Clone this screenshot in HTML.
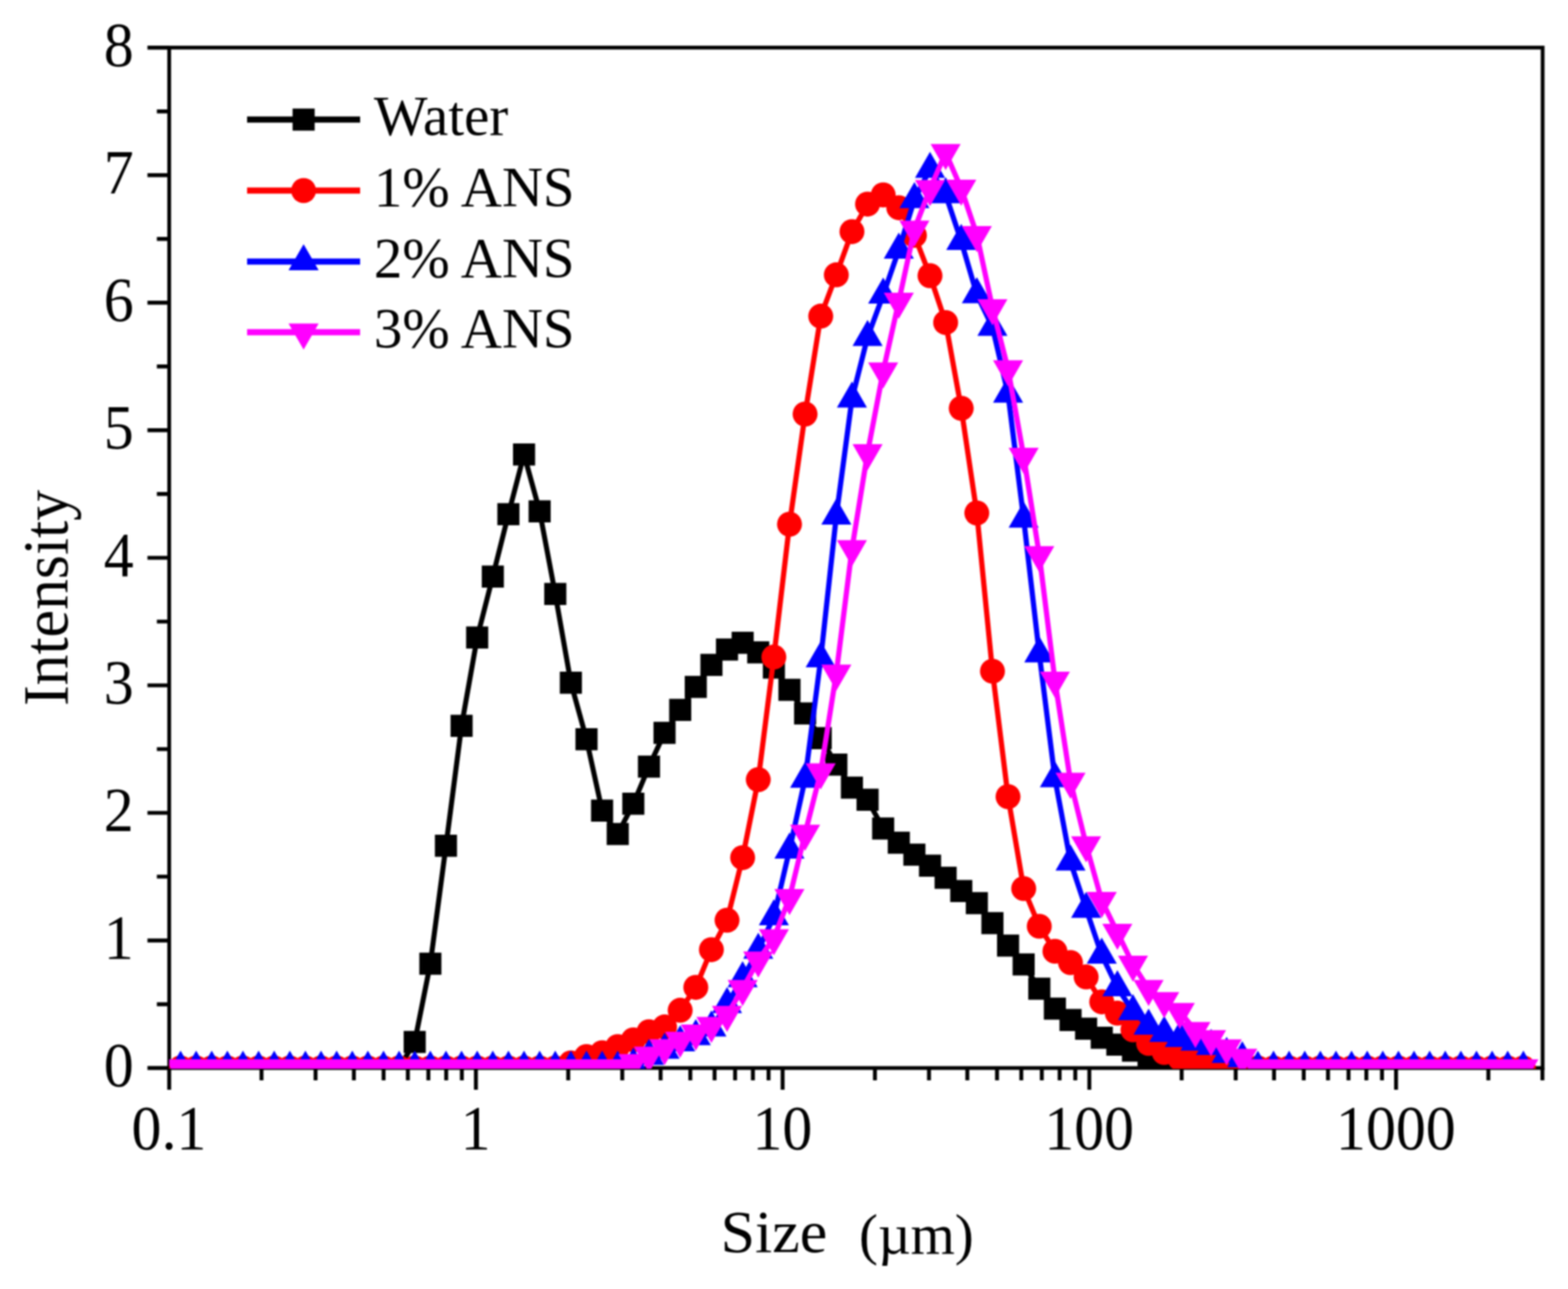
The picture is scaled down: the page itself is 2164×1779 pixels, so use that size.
<!DOCTYPE html>
<html lang="en">
<head>
<meta charset="utf-8">
<title>Particle size distribution</title>
<style>
html,body{margin:0;padding:0;background:#ffffff;}
body{width:2164px;height:1779px;overflow:hidden;}
svg{display:block;}
</style>
</head>
<body>
<svg width="2164" height="1779" viewBox="0 0 2164 1779">
<defs><clipPath id="plotclip"><rect x="233.5" y="65.7" width="1895.5" height="1409.3"/></clipPath></defs>
<rect width="2164" height="1779" fill="#ffffff"/>
<filter id="soft" color-interpolation-filters="sRGB" filterUnits="userSpaceOnUse" x="0" y="0" width="2164" height="1779"><feGaussianBlur stdDeviation="1.2"/></filter>
<g filter="url(#soft)">
<rect x="-20" y="-20" width="2204" height="1819" fill="#ffffff"/>
<g stroke="#000000"><rect x="233.5" y="65.7" width="1895.5" height="1408.3" fill="none" stroke-width="5.2"/>
<path d="M233.5 1474H203.5M233.5 1386H216.5M233.5 1298H203.5M233.5 1209.9H216.5M233.5 1121.9H203.5M233.5 1033.9H216.5M233.5 945.9H203.5M233.5 857.9H216.5M233.5 769.9H203.5M233.5 681.8H216.5M233.5 593.8H203.5M233.5 505.8H216.5M233.5 417.8H203.5M233.5 329.8H216.5M233.5 241.7H203.5M233.5 153.7H216.5M233.5 65.7H203.5M233.5 1474V1504M360.9 1474V1491M435.5 1474V1491M488.4 1474V1491M529.4 1474V1491M562.9 1474V1491M591.2 1474V1491M615.8 1474V1491M637.4 1474V1491M656.8 1474V1504M784.2 1474V1491M858.8 1474V1491M911.7 1474V1491M952.7 1474V1491M986.2 1474V1491M1014.5 1474V1491M1039.1 1474V1491M1060.7 1474V1491M1080.1 1474V1504M1207.5 1474V1491M1282.1 1474V1491M1335 1474V1491M1376 1474V1491M1409.5 1474V1491M1437.8 1474V1491M1462.4 1474V1491M1484 1474V1491M1503.4 1474V1504M1630.8 1474V1491M1705.4 1474V1491M1758.3 1474V1491M1799.3 1474V1491M1832.8 1474V1491M1861.1 1474V1491M1885.7 1474V1491M1907.3 1474V1491M1926.7 1474V1504M2054.1 1474V1491M2128.7 1474V1491" fill="none" stroke-width="5.4"/></g>
<g font-family="'Liberation Serif', 'Times New Roman', serif" font-size="86" fill="#000000">
<text transform="translate(184.5,1498.8) scale(0.96,1)" text-anchor="end">0</text>
<text transform="translate(184.5,1322.8) scale(0.96,1)" text-anchor="end">1</text>
<text transform="translate(184.5,1146.7) scale(0.96,1)" text-anchor="end">2</text>
<text transform="translate(184.5,970.7) scale(0.96,1)" text-anchor="end">3</text>
<text transform="translate(184.5,794.6) scale(0.96,1)" text-anchor="end">4</text>
<text transform="translate(184.5,618.6) scale(0.96,1)" text-anchor="end">5</text>
<text transform="translate(184.5,442.6) scale(0.96,1)" text-anchor="end">6</text>
<text transform="translate(184.5,266.5) scale(0.96,1)" text-anchor="end">7</text>
<text transform="translate(184.5,90.5) scale(0.96,1)" text-anchor="end">8</text>
<text transform="translate(233.2,1585.6) scale(0.96,1)" text-anchor="middle">0.1</text>
<text transform="translate(656.5,1585.6) scale(0.96,1)" text-anchor="middle">1</text>
<text transform="translate(1079.8,1585.6) scale(0.96,1)" text-anchor="middle">10</text>
<text transform="translate(1503.1,1585.6) scale(0.96,1)" text-anchor="middle">100</text>
<text transform="translate(1926.4,1585.6) scale(0.96,1)" text-anchor="middle">1000</text>
</g>
<g font-family="'Liberation Serif', 'Times New Roman', serif" fill="#000000">
<text y="1728.3" xml:space="preserve"><tspan x="994.5" font-size="82" textLength="190" lengthAdjust="spacingAndGlyphs">Size  </tspan><tspan x="1185.5" dy="1.5" font-size="78" textLength="158.5" lengthAdjust="spacingAndGlyphs">(µm)</tspan></text>
<text transform="translate(93,825.2) rotate(-90) scale(0.963,1)" font-size="88.5" text-anchor="middle">Intensity</text>
</g>
<g clip-path="url(#plotclip)">
<polyline fill="none" stroke="#000000" stroke-width="7" stroke-linejoin="round" points="249.2,1474 270.7,1474 292.2,1474 313.8,1474 335.3,1474 356.9,1474 378.4,1474 400,1474 421.5,1474 443.1,1474 464.6,1474 486.2,1474 507.7,1474 529.3,1474 550.8,1474 572.4,1438 593.9,1330 615.5,1167.2 637,1001.7 658.6,879.9 680.1,795.7 701.7,709.6 723.2,627.2 744.8,705.8 766.3,819.8 787.9,942.3 809.4,1020.3 831,1118.8 852.5,1151 874.1,1109.3 895.6,1058 917.2,1011.5 938.7,979.8 960.3,948 981.8,917.6 1003.4,896.5 1024.9,887.1 1046.5,900.4 1068,921.4 1089.6,952 1111.1,984.6 1132.7,1018.8 1154.2,1055.3 1175.8,1087 1197.3,1103.8 1218.9,1143.5 1240.4,1163 1262,1179.6 1283.5,1194.8 1305.1,1211.5 1326.6,1229.8 1348.1,1246.4 1369.7,1274 1391.2,1305 1412.8,1331 1434.3,1364.6 1455.9,1392.1 1477.4,1407.7 1499,1419.8 1520.5,1432.3 1542.1,1441.7 1563.6,1450 1585.2,1458 1606.7,1464 1628.3,1469 1649.8,1474 1671.4,1474 1692.9,1474 1714.5,1474 1736,1474 1757.6,1474 1779.1,1474 1800.7,1474 1822.2,1474 1843.8,1474 1865.3,1474 1886.9,1474 1908.4,1474 1930,1474 1951.5,1474 1973.1,1474 1994.6,1474 2016.2,1474 2037.7,1474 2059.3,1474 2080.8,1474 2102.4,1474"/>
<g fill="#000000">
<rect x="557.1" y="1422.8" width="30.5" height="30.5"/>
<rect x="578.7" y="1314.8" width="30.5" height="30.5"/>
<rect x="600.2" y="1152" width="30.5" height="30.5"/>
<rect x="621.8" y="986.5" width="30.5" height="30.5"/>
<rect x="643.3" y="864.6" width="30.5" height="30.5"/>
<rect x="664.9" y="780.5" width="30.5" height="30.5"/>
<rect x="686.4" y="694.4" width="30.5" height="30.5"/>
<rect x="708" y="612" width="30.5" height="30.5"/>
<rect x="729.5" y="690.5" width="30.5" height="30.5"/>
<rect x="751.1" y="804.5" width="30.5" height="30.5"/>
<rect x="772.6" y="927" width="30.5" height="30.5"/>
<rect x="794.2" y="1005" width="30.5" height="30.5"/>
<rect x="815.7" y="1103.5" width="30.5" height="30.5"/>
<rect x="837.3" y="1135.8" width="30.5" height="30.5"/>
<rect x="858.8" y="1094" width="30.5" height="30.5"/>
<rect x="880.4" y="1042.8" width="30.5" height="30.5"/>
<rect x="901.9" y="996.2" width="30.5" height="30.5"/>
<rect x="923.5" y="964.5" width="30.5" height="30.5"/>
<rect x="945" y="932.8" width="30.5" height="30.5"/>
<rect x="966.6" y="902.4" width="30.5" height="30.5"/>
<rect x="988.1" y="881.2" width="30.5" height="30.5"/>
<rect x="1009.7" y="871.9" width="30.5" height="30.5"/>
<rect x="1031.2" y="885.1" width="30.5" height="30.5"/>
<rect x="1052.8" y="906.1" width="30.5" height="30.5"/>
<rect x="1074.3" y="936.8" width="30.5" height="30.5"/>
<rect x="1095.9" y="969.4" width="30.5" height="30.5"/>
<rect x="1117.4" y="1003.5" width="30.5" height="30.5"/>
<rect x="1139" y="1040" width="30.5" height="30.5"/>
<rect x="1160.5" y="1071.8" width="30.5" height="30.5"/>
<rect x="1182.1" y="1088.5" width="30.5" height="30.5"/>
<rect x="1203.6" y="1128.2" width="30.5" height="30.5"/>
<rect x="1225.2" y="1147.8" width="30.5" height="30.5"/>
<rect x="1246.7" y="1164.3" width="30.5" height="30.5"/>
<rect x="1268.3" y="1179.5" width="30.5" height="30.5"/>
<rect x="1289.8" y="1196.2" width="30.5" height="30.5"/>
<rect x="1311.4" y="1214.5" width="30.5" height="30.5"/>
<rect x="1332.9" y="1231.2" width="30.5" height="30.5"/>
<rect x="1354.4" y="1258.8" width="30.5" height="30.5"/>
<rect x="1376" y="1289.8" width="30.5" height="30.5"/>
<rect x="1397.5" y="1315.8" width="30.5" height="30.5"/>
<rect x="1419.1" y="1349.3" width="30.5" height="30.5"/>
<rect x="1440.6" y="1376.8" width="30.5" height="30.5"/>
<rect x="1462.2" y="1392.5" width="30.5" height="30.5"/>
<rect x="1483.7" y="1404.5" width="30.5" height="30.5"/>
<rect x="1505.3" y="1417" width="30.5" height="30.5"/>
<rect x="1526.8" y="1426.5" width="30.5" height="30.5"/>
<rect x="1548.4" y="1434.8" width="30.5" height="30.5"/>
<rect x="1569.9" y="1442.8" width="30.5" height="30.5"/>
<rect x="1591.5" y="1448.8" width="30.5" height="30.5"/>
<rect x="1613" y="1453.8" width="30.5" height="30.5"/>
</g>
<polyline fill="none" stroke="#ff0000" stroke-width="7.2" stroke-linejoin="round" points="249.2,1474 270.7,1474 292.2,1474 313.8,1474 335.3,1474 356.9,1474 378.4,1474 400,1474 421.5,1474 443.1,1474 464.6,1474 486.2,1474 507.7,1474 529.3,1474 550.8,1474 572.4,1474 593.9,1474 615.5,1474 637,1474 658.6,1474 680.1,1474 701.7,1474 723.2,1474 744.8,1474 766.3,1474 787.9,1467 809.4,1458.2 831,1453 852.5,1444.5 874.1,1435.2 895.6,1424 917.2,1417.3 938.7,1394.3 960.3,1362.7 981.8,1310.7 1003.4,1270 1024.9,1183.7 1046.5,1076 1068,906.8 1089.6,723.5 1111.1,571.5 1132.7,436.3 1154.2,379.3 1175.8,319.7 1197.3,281.7 1218.9,269 1240.4,286.7 1262,324.8 1283.5,380.5 1305.1,445.2 1326.6,563.5 1348.1,708 1369.7,926.4 1391.2,1099.5 1412.8,1226.4 1434.3,1278.4 1455.9,1312.9 1477.4,1328.5 1499,1348.3 1520.5,1382.7 1542.1,1398.3 1563.6,1421.3 1585.2,1440 1606.7,1452.5 1628.3,1460.8 1649.8,1465 1671.4,1469 1692.9,1472 1714.5,1474 1736,1474 1757.6,1474 1779.1,1474 1800.7,1474 1822.2,1474 1843.8,1474 1865.3,1474 1886.9,1474 1908.4,1474 1930,1474 1951.5,1474 1973.1,1474 1994.6,1474 2016.2,1474 2037.7,1474 2059.3,1474 2080.8,1474 2102.4,1474"/>
<g fill="#ff0000">
<circle cx="249.2" cy="1474" r="17.2"/>
<circle cx="270.7" cy="1474" r="17.2"/>
<circle cx="292.2" cy="1474" r="17.2"/>
<circle cx="313.8" cy="1474" r="17.2"/>
<circle cx="335.3" cy="1474" r="17.2"/>
<circle cx="356.9" cy="1474" r="17.2"/>
<circle cx="378.4" cy="1474" r="17.2"/>
<circle cx="400" cy="1474" r="17.2"/>
<circle cx="421.5" cy="1474" r="17.2"/>
<circle cx="443.1" cy="1474" r="17.2"/>
<circle cx="464.6" cy="1474" r="17.2"/>
<circle cx="486.2" cy="1474" r="17.2"/>
<circle cx="507.7" cy="1474" r="17.2"/>
<circle cx="529.3" cy="1474" r="17.2"/>
<circle cx="550.8" cy="1474" r="17.2"/>
<circle cx="572.4" cy="1474" r="17.2"/>
<circle cx="593.9" cy="1474" r="17.2"/>
<circle cx="615.5" cy="1474" r="17.2"/>
<circle cx="637" cy="1474" r="17.2"/>
<circle cx="658.6" cy="1474" r="17.2"/>
<circle cx="680.1" cy="1474" r="17.2"/>
<circle cx="701.7" cy="1474" r="17.2"/>
<circle cx="723.2" cy="1474" r="17.2"/>
<circle cx="744.8" cy="1474" r="17.2"/>
<circle cx="766.3" cy="1474" r="17.2"/>
<circle cx="787.9" cy="1467" r="17.2"/>
<circle cx="809.4" cy="1458.2" r="17.2"/>
<circle cx="831" cy="1453" r="17.2"/>
<circle cx="852.5" cy="1444.5" r="17.2"/>
<circle cx="874.1" cy="1435.2" r="17.2"/>
<circle cx="895.6" cy="1424" r="17.2"/>
<circle cx="917.2" cy="1417.3" r="17.2"/>
<circle cx="938.7" cy="1394.3" r="17.2"/>
<circle cx="960.3" cy="1362.7" r="17.2"/>
<circle cx="981.8" cy="1310.7" r="17.2"/>
<circle cx="1003.4" cy="1270" r="17.2"/>
<circle cx="1024.9" cy="1183.7" r="17.2"/>
<circle cx="1046.5" cy="1076" r="17.2"/>
<circle cx="1068" cy="906.8" r="17.2"/>
<circle cx="1089.6" cy="723.5" r="17.2"/>
<circle cx="1111.1" cy="571.5" r="17.2"/>
<circle cx="1132.7" cy="436.3" r="17.2"/>
<circle cx="1154.2" cy="379.3" r="17.2"/>
<circle cx="1175.8" cy="319.7" r="17.2"/>
<circle cx="1197.3" cy="281.7" r="17.2"/>
<circle cx="1218.9" cy="269" r="17.2"/>
<circle cx="1240.4" cy="286.7" r="17.2"/>
<circle cx="1262" cy="324.8" r="17.2"/>
<circle cx="1283.5" cy="380.5" r="17.2"/>
<circle cx="1305.1" cy="445.2" r="17.2"/>
<circle cx="1326.6" cy="563.5" r="17.2"/>
<circle cx="1348.1" cy="708" r="17.2"/>
<circle cx="1369.7" cy="926.4" r="17.2"/>
<circle cx="1391.2" cy="1099.5" r="17.2"/>
<circle cx="1412.8" cy="1226.4" r="17.2"/>
<circle cx="1434.3" cy="1278.4" r="17.2"/>
<circle cx="1455.9" cy="1312.9" r="17.2"/>
<circle cx="1477.4" cy="1328.5" r="17.2"/>
<circle cx="1499" cy="1348.3" r="17.2"/>
<circle cx="1520.5" cy="1382.7" r="17.2"/>
<circle cx="1542.1" cy="1398.3" r="17.2"/>
<circle cx="1563.6" cy="1421.3" r="17.2"/>
<circle cx="1585.2" cy="1440" r="17.2"/>
<circle cx="1606.7" cy="1452.5" r="17.2"/>
<circle cx="1628.3" cy="1460.8" r="17.2"/>
<circle cx="1649.8" cy="1465" r="17.2"/>
<circle cx="1671.4" cy="1469" r="17.2"/>
<circle cx="1692.9" cy="1472" r="17.2"/>
<circle cx="1714.5" cy="1474" r="17.2"/>
<circle cx="1736" cy="1474" r="17.2"/>
<circle cx="1757.6" cy="1474" r="17.2"/>
<circle cx="1779.1" cy="1474" r="17.2"/>
<circle cx="1800.7" cy="1474" r="17.2"/>
<circle cx="1822.2" cy="1474" r="17.2"/>
<circle cx="1843.8" cy="1474" r="17.2"/>
<circle cx="1865.3" cy="1474" r="17.2"/>
<circle cx="1886.9" cy="1474" r="17.2"/>
<circle cx="1908.4" cy="1474" r="17.2"/>
<circle cx="1930" cy="1474" r="17.2"/>
<circle cx="1951.5" cy="1474" r="17.2"/>
<circle cx="1973.1" cy="1474" r="17.2"/>
<circle cx="1994.6" cy="1474" r="17.2"/>
<circle cx="2016.2" cy="1474" r="17.2"/>
<circle cx="2037.7" cy="1474" r="17.2"/>
<circle cx="2059.3" cy="1474" r="17.2"/>
<circle cx="2080.8" cy="1474" r="17.2"/>
<circle cx="2102.4" cy="1474" r="17.2"/>
</g>
<polyline fill="none" stroke="#0000ff" stroke-width="7.2" stroke-linejoin="round" points="249.2,1474 270.7,1474 292.2,1474 313.8,1474 335.3,1474 356.9,1474 378.4,1474 400,1474 421.5,1474 443.1,1474 464.6,1474 486.2,1474 507.7,1474 529.3,1474 550.8,1474 572.4,1474 593.9,1474 615.5,1474 637,1474 658.6,1474 680.1,1474 701.7,1474 723.2,1474 744.8,1474 766.3,1474 787.9,1474 809.4,1474 831,1474 852.5,1474 874.1,1469.7 895.6,1457.8 917.2,1449.3 938.7,1439 960.3,1430.5 981.8,1418.6 1003.4,1386.2 1024.9,1350.4 1046.5,1311.2 1068,1265 1089.6,1172.9 1111.1,1075.3 1132.7,909.1 1154.2,712.1 1175.8,550.5 1197.3,465.4 1218.9,407.1 1240.4,345 1262,275.3 1283.5,233.5 1305.1,268.5 1326.6,332.9 1348.1,406.4 1369.7,451.5 1391.2,543.7 1412.8,716.3 1434.3,902.3 1455.9,1074.4 1477.4,1189.5 1499,1254.7 1520.5,1318.1 1542.1,1362.9 1563.6,1396 1585.2,1416 1606.7,1426 1628.3,1433 1649.8,1438 1671.4,1444 1692.9,1455 1714.5,1461 1736,1474 1757.6,1474 1779.1,1474 1800.7,1474 1822.2,1474 1843.8,1474 1865.3,1474 1886.9,1474 1908.4,1474 1930,1474 1951.5,1474 1973.1,1474 1994.6,1474 2016.2,1474 2037.7,1474 2059.3,1474 2080.8,1474 2102.4,1474"/>
<g fill="#0000ff">
<polygon points="249.2,1450 269.9,1486 228.4,1486"/>
<polygon points="270.7,1450 291.4,1486 249.9,1486"/>
<polygon points="292.2,1450 313,1486 271.5,1486"/>
<polygon points="313.8,1450 334.5,1486 293,1486"/>
<polygon points="335.3,1450 356.1,1486 314.6,1486"/>
<polygon points="356.9,1450 377.6,1486 336.1,1486"/>
<polygon points="378.4,1450 399.2,1486 357.7,1486"/>
<polygon points="400,1450 420.7,1486 379.2,1486"/>
<polygon points="421.5,1450 442.3,1486 400.8,1486"/>
<polygon points="443.1,1450 463.8,1486 422.3,1486"/>
<polygon points="464.6,1450 485.4,1486 443.9,1486"/>
<polygon points="486.2,1450 506.9,1486 465.4,1486"/>
<polygon points="507.7,1450 528.5,1486 487,1486"/>
<polygon points="529.3,1450 550,1486 508.5,1486"/>
<polygon points="550.8,1450 571.6,1486 530.1,1486"/>
<polygon points="572.4,1450 593.1,1486 551.6,1486"/>
<polygon points="593.9,1450 614.7,1486 573.2,1486"/>
<polygon points="615.5,1450 636.2,1486 594.7,1486"/>
<polygon points="637,1450 657.8,1486 616.3,1486"/>
<polygon points="658.6,1450 679.3,1486 637.8,1486"/>
<polygon points="680.1,1450 700.9,1486 659.4,1486"/>
<polygon points="701.7,1450 722.4,1486 680.9,1486"/>
<polygon points="723.2,1450 744,1486 702.5,1486"/>
<polygon points="744.8,1450 765.5,1486 724,1486"/>
<polygon points="766.3,1450 787.1,1486 745.6,1486"/>
<polygon points="787.9,1450 808.6,1486 767.1,1486"/>
<polygon points="809.4,1450 830.2,1486 788.7,1486"/>
<polygon points="831,1450 851.7,1486 810.2,1486"/>
<polygon points="852.5,1450 873.3,1486 831.8,1486"/>
<polygon points="874.1,1445.7 894.8,1481.7 853.3,1481.7"/>
<polygon points="895.6,1433.8 916.4,1469.8 874.9,1469.8"/>
<polygon points="917.2,1425.3 937.9,1461.3 896.4,1461.3"/>
<polygon points="938.7,1415 959.5,1451 918,1451"/>
<polygon points="960.3,1406.5 981,1442.5 939.5,1442.5"/>
<polygon points="981.8,1394.6 1002.6,1430.6 961.1,1430.6"/>
<polygon points="1003.4,1362.2 1024.1,1398.2 982.6,1398.2"/>
<polygon points="1024.9,1326.4 1045.7,1362.4 1004.2,1362.4"/>
<polygon points="1046.5,1287.2 1067.2,1323.2 1025.7,1323.2"/>
<polygon points="1068,1241 1088.8,1277 1047.3,1277"/>
<polygon points="1089.6,1148.9 1110.3,1184.9 1068.8,1184.9"/>
<polygon points="1111.1,1051.3 1131.9,1087.3 1090.4,1087.3"/>
<polygon points="1132.7,885.1 1153.4,921.1 1111.9,921.1"/>
<polygon points="1154.2,688.1 1175,724.1 1133.5,724.1"/>
<polygon points="1175.8,526.5 1196.5,562.5 1155,562.5"/>
<polygon points="1197.3,441.4 1218.1,477.4 1176.6,477.4"/>
<polygon points="1218.9,383.1 1239.6,419.1 1198.1,419.1"/>
<polygon points="1240.4,321 1261.2,357 1219.7,357"/>
<polygon points="1262,251.3 1282.7,287.3 1241.2,287.3"/>
<polygon points="1283.5,209.5 1304.3,245.5 1262.8,245.5"/>
<polygon points="1305.1,244.5 1325.8,280.5 1284.3,280.5"/>
<polygon points="1326.6,308.9 1347.4,344.9 1305.9,344.9"/>
<polygon points="1348.1,382.4 1368.9,418.4 1327.4,418.4"/>
<polygon points="1369.7,427.5 1390.4,463.5 1348.9,463.5"/>
<polygon points="1391.2,519.7 1412,555.7 1370.5,555.7"/>
<polygon points="1412.8,692.3 1433.5,728.3 1392,728.3"/>
<polygon points="1434.3,878.3 1455.1,914.3 1413.6,914.3"/>
<polygon points="1455.9,1050.4 1476.6,1086.4 1435.1,1086.4"/>
<polygon points="1477.4,1165.5 1498.2,1201.5 1456.7,1201.5"/>
<polygon points="1499,1230.7 1519.7,1266.7 1478.2,1266.7"/>
<polygon points="1520.5,1294.1 1541.3,1330.1 1499.8,1330.1"/>
<polygon points="1542.1,1338.9 1562.8,1374.9 1521.3,1374.9"/>
<polygon points="1563.6,1372 1584.4,1408 1542.9,1408"/>
<polygon points="1585.2,1392 1605.9,1428 1564.4,1428"/>
<polygon points="1606.7,1402 1627.5,1438 1586,1438"/>
<polygon points="1628.3,1409 1649,1445 1607.5,1445"/>
<polygon points="1649.8,1414 1670.6,1450 1629.1,1450"/>
<polygon points="1671.4,1420 1692.1,1456 1650.6,1456"/>
<polygon points="1692.9,1431 1713.7,1467 1672.2,1467"/>
<polygon points="1714.5,1437 1735.2,1473 1693.7,1473"/>
<polygon points="1736,1450 1756.8,1486 1715.3,1486"/>
<polygon points="1757.6,1450 1778.3,1486 1736.8,1486"/>
<polygon points="1779.1,1450 1799.9,1486 1758.4,1486"/>
<polygon points="1800.7,1450 1821.4,1486 1779.9,1486"/>
<polygon points="1822.2,1450 1843,1486 1801.5,1486"/>
<polygon points="1843.8,1450 1864.5,1486 1823,1486"/>
<polygon points="1865.3,1450 1886.1,1486 1844.6,1486"/>
<polygon points="1886.9,1450 1907.6,1486 1866.1,1486"/>
<polygon points="1908.4,1450 1929.2,1486 1887.7,1486"/>
<polygon points="1930,1450 1950.7,1486 1909.2,1486"/>
<polygon points="1951.5,1450 1972.3,1486 1930.8,1486"/>
<polygon points="1973.1,1450 1993.8,1486 1952.3,1486"/>
<polygon points="1994.6,1450 2015.4,1486 1973.9,1486"/>
<polygon points="2016.2,1450 2036.9,1486 1995.4,1486"/>
<polygon points="2037.7,1450 2058.5,1486 2017,1486"/>
<polygon points="2059.3,1450 2080,1486 2038.5,1486"/>
<polygon points="2080.8,1450 2101.6,1486 2060.1,1486"/>
<polygon points="2102.4,1450 2123.1,1486 2081.6,1486"/>
</g>
<polyline fill="none" stroke="#ff00ff" stroke-width="7.2" stroke-linejoin="round" points="249.2,1474 270.7,1474 292.2,1474 313.8,1474 335.3,1474 356.9,1474 378.4,1474 400,1474 421.5,1474 443.1,1474 464.6,1474 486.2,1474 507.7,1474 529.3,1474 550.8,1474 572.4,1474 593.9,1474 615.5,1474 637,1474 658.6,1474 680.1,1474 701.7,1474 723.2,1474 744.8,1474 766.3,1474 787.9,1474 809.4,1474 831,1474 852.5,1474 874.1,1466.8 895.6,1456.5 917.2,1446.3 938.7,1436 960.3,1425.9 981.8,1415.6 1003.4,1400.3 1024.9,1364.5 1046.5,1325.3 1068,1294.6 1089.6,1239 1111.1,1150.3 1132.7,1065.4 1154.2,929.3 1175.8,757.5 1197.3,625.1 1218.9,512.3 1240.4,416 1262,316.4 1283.5,260.6 1305.1,210.7 1326.6,260.1 1348.1,324 1369.7,424.9 1391.2,509.3 1412.8,630 1434.3,765.7 1455.9,939.1 1477.4,1078.5 1499,1166.2 1520.5,1242.9 1542.1,1286.9 1563.6,1331 1585.2,1364.6 1606.7,1381.2 1628.3,1396.2 1649.8,1422.5 1671.4,1433.8 1692.9,1446.5 1714.5,1459.4 1736,1474 1757.6,1474 1779.1,1474 1800.7,1474 1822.2,1474 1843.8,1474 1865.3,1474 1886.9,1474 1908.4,1474 1930,1474 1951.5,1474 1973.1,1474 1994.6,1474 2016.2,1474 2037.7,1474 2059.3,1474 2080.8,1474 2102.4,1474"/>
<g fill="#ff00ff">
<polygon points="249.2,1498 269.9,1462 228.4,1462"/>
<polygon points="270.7,1498 291.4,1462 249.9,1462"/>
<polygon points="292.2,1498 313,1462 271.5,1462"/>
<polygon points="313.8,1498 334.5,1462 293,1462"/>
<polygon points="335.3,1498 356.1,1462 314.6,1462"/>
<polygon points="356.9,1498 377.6,1462 336.1,1462"/>
<polygon points="378.4,1498 399.2,1462 357.7,1462"/>
<polygon points="400,1498 420.7,1462 379.2,1462"/>
<polygon points="421.5,1498 442.3,1462 400.8,1462"/>
<polygon points="443.1,1498 463.8,1462 422.3,1462"/>
<polygon points="464.6,1498 485.4,1462 443.9,1462"/>
<polygon points="486.2,1498 506.9,1462 465.4,1462"/>
<polygon points="507.7,1498 528.5,1462 487,1462"/>
<polygon points="529.3,1498 550,1462 508.5,1462"/>
<polygon points="550.8,1498 571.6,1462 530.1,1462"/>
<polygon points="572.4,1498 593.1,1462 551.6,1462"/>
<polygon points="593.9,1498 614.7,1462 573.2,1462"/>
<polygon points="615.5,1498 636.2,1462 594.7,1462"/>
<polygon points="637,1498 657.8,1462 616.3,1462"/>
<polygon points="658.6,1498 679.3,1462 637.8,1462"/>
<polygon points="680.1,1498 700.9,1462 659.4,1462"/>
<polygon points="701.7,1498 722.4,1462 680.9,1462"/>
<polygon points="723.2,1498 744,1462 702.5,1462"/>
<polygon points="744.8,1498 765.5,1462 724,1462"/>
<polygon points="766.3,1498 787.1,1462 745.6,1462"/>
<polygon points="787.9,1498 808.6,1462 767.1,1462"/>
<polygon points="809.4,1498 830.2,1462 788.7,1462"/>
<polygon points="831,1498 851.7,1462 810.2,1462"/>
<polygon points="852.5,1498 873.3,1462 831.8,1462"/>
<polygon points="874.1,1490.8 894.8,1454.8 853.3,1454.8"/>
<polygon points="895.6,1480.5 916.4,1444.5 874.9,1444.5"/>
<polygon points="917.2,1470.3 937.9,1434.3 896.4,1434.3"/>
<polygon points="938.7,1460 959.5,1424 918,1424"/>
<polygon points="960.3,1449.9 981,1413.9 939.5,1413.9"/>
<polygon points="981.8,1439.6 1002.6,1403.6 961.1,1403.6"/>
<polygon points="1003.4,1424.3 1024.1,1388.3 982.6,1388.3"/>
<polygon points="1024.9,1388.5 1045.7,1352.5 1004.2,1352.5"/>
<polygon points="1046.5,1349.3 1067.2,1313.3 1025.7,1313.3"/>
<polygon points="1068,1318.6 1088.8,1282.6 1047.3,1282.6"/>
<polygon points="1089.6,1263 1110.3,1227 1068.8,1227"/>
<polygon points="1111.1,1174.3 1131.9,1138.3 1090.4,1138.3"/>
<polygon points="1132.7,1089.4 1153.4,1053.4 1111.9,1053.4"/>
<polygon points="1154.2,953.3 1175,917.3 1133.5,917.3"/>
<polygon points="1175.8,781.5 1196.5,745.5 1155,745.5"/>
<polygon points="1197.3,649.1 1218.1,613.1 1176.6,613.1"/>
<polygon points="1218.9,536.3 1239.6,500.3 1198.1,500.3"/>
<polygon points="1240.4,440 1261.2,404 1219.7,404"/>
<polygon points="1262,340.4 1282.7,304.4 1241.2,304.4"/>
<polygon points="1283.5,284.6 1304.3,248.6 1262.8,248.6"/>
<polygon points="1305.1,234.7 1325.8,198.7 1284.3,198.7"/>
<polygon points="1326.6,284.1 1347.4,248.1 1305.9,248.1"/>
<polygon points="1348.1,348 1368.9,312 1327.4,312"/>
<polygon points="1369.7,448.9 1390.4,412.9 1348.9,412.9"/>
<polygon points="1391.2,533.3 1412,497.3 1370.5,497.3"/>
<polygon points="1412.8,654 1433.5,618 1392,618"/>
<polygon points="1434.3,789.7 1455.1,753.7 1413.6,753.7"/>
<polygon points="1455.9,963.1 1476.6,927.1 1435.1,927.1"/>
<polygon points="1477.4,1102.5 1498.2,1066.5 1456.7,1066.5"/>
<polygon points="1499,1190.2 1519.7,1154.2 1478.2,1154.2"/>
<polygon points="1520.5,1266.9 1541.3,1230.9 1499.8,1230.9"/>
<polygon points="1542.1,1310.9 1562.8,1274.9 1521.3,1274.9"/>
<polygon points="1563.6,1355 1584.4,1319 1542.9,1319"/>
<polygon points="1585.2,1388.6 1605.9,1352.6 1564.4,1352.6"/>
<polygon points="1606.7,1405.2 1627.5,1369.2 1586,1369.2"/>
<polygon points="1628.3,1420.2 1649,1384.2 1607.5,1384.2"/>
<polygon points="1649.8,1446.5 1670.6,1410.5 1629.1,1410.5"/>
<polygon points="1671.4,1457.8 1692.1,1421.8 1650.6,1421.8"/>
<polygon points="1692.9,1470.5 1713.7,1434.5 1672.2,1434.5"/>
<polygon points="1714.5,1483.4 1735.2,1447.4 1693.7,1447.4"/>
<polygon points="1736,1498 1756.8,1462 1715.3,1462"/>
<polygon points="1757.6,1498 1778.3,1462 1736.8,1462"/>
<polygon points="1779.1,1498 1799.9,1462 1758.4,1462"/>
<polygon points="1800.7,1498 1821.4,1462 1779.9,1462"/>
<polygon points="1822.2,1498 1843,1462 1801.5,1462"/>
<polygon points="1843.8,1498 1864.5,1462 1823,1462"/>
<polygon points="1865.3,1498 1886.1,1462 1844.6,1462"/>
<polygon points="1886.9,1498 1907.6,1462 1866.1,1462"/>
<polygon points="1908.4,1498 1929.2,1462 1887.7,1462"/>
<polygon points="1930,1498 1950.7,1462 1909.2,1462"/>
<polygon points="1951.5,1498 1972.3,1462 1930.8,1462"/>
<polygon points="1973.1,1498 1993.8,1462 1952.3,1462"/>
<polygon points="1994.6,1498 2015.4,1462 1973.9,1462"/>
<polygon points="2016.2,1498 2036.9,1462 1995.4,1462"/>
<polygon points="2037.7,1498 2058.5,1462 2017,1462"/>
<polygon points="2059.3,1498 2080,1462 2038.5,1462"/>
<polygon points="2080.8,1498 2101.6,1462 2060.1,1462"/>
<polygon points="2102.4,1498 2123.1,1462 2081.6,1462"/>
</g>
</g>
<g fill="#000000"><path d="M341 165H497" stroke="#000000" stroke-width="8.6" fill="none"/><rect x="403.8" y="149.8" width="30.5" height="30.5"/></g>
<g fill="#ff0000"><path d="M341 263H497" stroke="#ff0000" stroke-width="8.6" fill="none"/><circle cx="419" cy="263" r="17.2"/></g>
<g fill="#0000ff"><path d="M341 361H497" stroke="#0000ff" stroke-width="8.6" fill="none"/><polygon points="419,337 439.8,373 398.2,373"/></g>
<g fill="#ff00ff"><path d="M341 458.5H497" stroke="#ff00ff" stroke-width="8.6" fill="none"/><polygon points="419,482.5 439.8,446.5 398.2,446.5"/></g>
<g font-family="'Liberation Serif', 'Times New Roman', serif" font-size="78.5" fill="#000000">
<text x="516" y="185.8">Water</text>
<text x="516" y="283.8">1% ANS</text>
<text x="516" y="381.8">2% ANS</text>
<text x="516" y="479.3">3% ANS</text>
</g>
</g>
</svg>
</body>
</html>
